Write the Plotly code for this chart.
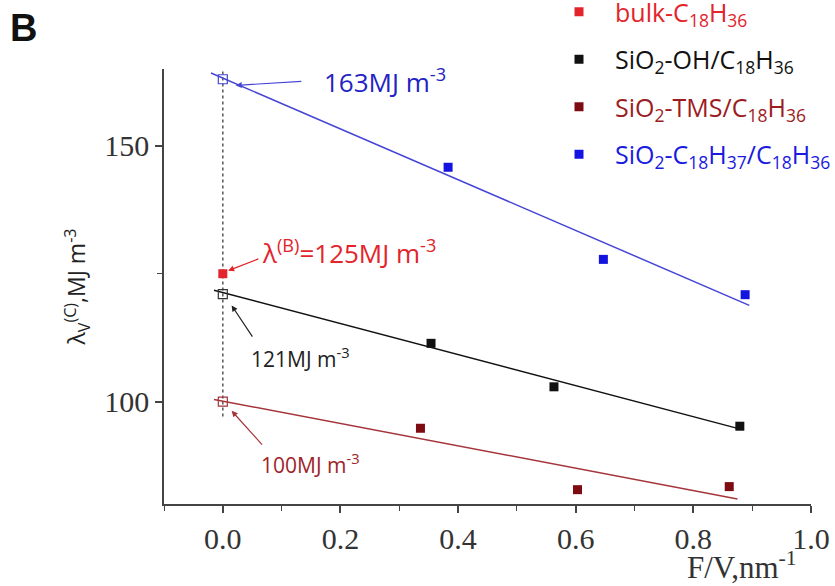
import numpy as np
import plotly.graph_objects as go

# ---------------- data ----------------
bulk_x = [0.0]
bulk_y = [125.0]

oh_x = [0.354, 0.563, 0.879]
oh_y = [111.4, 102.9, 95.2]

tms_x = [0.336, 0.603, 0.861]
tms_y = [94.8, 82.8, 83.4]

c18_x = [0.383, 0.647, 0.888]
c18_y = [145.8, 127.8, 120.9]

# extrapolated intercepts (open squares)
icpt_x = [0.0]
icpt_oh = [121.0]
icpt_tms = [100.0]
icpt_c18 = [163.0]

# extent of the fitted lines (x)
fit_oh = [-0.015, 0.88]
fit_tms = [-0.015, 0.875]
fit_c18 = [-0.02, 0.895]

guide_x = [0.0, 0.0]
guide_y = [164.5, 96.5]

x_ticks = [0.0, 0.2, 0.4, 0.6, 0.8, 1.0]
y_ticks = [100, 150]

names = [
    'bulk-C<sub>18</sub>H<sub>36</sub>',
    'SiO<sub>2</sub>-OH/C<sub>18</sub>H<sub>36</sub>',
    'SiO<sub>2</sub>-TMS/C<sub>18</sub>H<sub>36</sub>',
    'SiO<sub>2</sub>-C<sub>18</sub>H<sub>37</sub>/C<sub>18</sub>H<sub>36</sub>',
]

# ---------------- styles ----------------
RED = '#e3242b'
BLACK = '#111111'
MAROON = '#7d0c12'
MAROON_LINE = '#a5353b'
MAROON_TXT = '#9e2428'
BLUE = '#1414e0'
BLUE_LINE = '#4646d6'
BLUE_TXT = '#2323c4'
AX = '#444444'

W, H = 835, 586
ML, MR, MT, MB = 164, 24, 69, 82
PW, PH = W - ML - MR, H - MT - MB


def px2paper(px, py):
    return (px - ML) / PW, (H - MB - py) / PH


fig = go.Figure()


def fit_line(xs, ys, rng):
    k, b = np.polyfit(xs, ys, 1)
    xx = np.array(rng)
    return xx, k * xx + b


# guide dotted line
fig.add_trace(go.Scatter(x=guide_x, y=guide_y, mode='lines',
                         line=dict(color='#555555', width=1.5, dash='dot'),
                         showlegend=False, hoverinfo='skip'))

# fitted lines
for xs, ys, rng, col in [(oh_x, oh_y, fit_oh, BLACK),
                         (tms_x, tms_y, fit_tms, MAROON_LINE),
                         (c18_x, c18_y, fit_c18, BLUE_LINE)]:
    lx, ly = fit_line(xs, ys, rng)
    fig.add_trace(go.Scatter(x=lx, y=ly, mode='lines',
                             line=dict(color=col, width=1.5),
                             showlegend=False, hoverinfo='skip'))

# open intercept squares
for yy, col in [(icpt_oh, '#333333'), (icpt_tms, MAROON_LINE), (icpt_c18, BLUE_LINE)]:
    fig.add_trace(go.Scatter(x=icpt_x, y=yy, mode='markers',
                             marker=dict(symbol='square-open', size=9, color=col,
                                         line=dict(width=1.2)),
                             showlegend=False, hoverinfo='skip'))

# data series (legend)
series = [(bulk_x, bulk_y, RED, RED),
          (oh_x, oh_y, BLACK, BLACK),
          (tms_x, tms_y, MAROON, '#9b1c22'),
          (c18_x, c18_y, BLUE, '#1a1ae0')]
for i, (xs, ys, col, tcol) in enumerate(series):
    fig.add_trace(go.Scatter(
        x=xs, y=ys, mode='markers',
        marker=dict(symbol='square', size=9, color=col),
        name=f'<span style="color:{tcol}">{names[i]}</span>',
        legendgroup=f'g{i}'))

# ---------------- annotations ----------------
ann = []
# arrows (head at x,y ; tail at ax,ay) in data coords
arrows = [
    (0.022, 161.8, 0.136, 162.6, BLUE_LINE),
    (0.009, 125.6, 0.063, 128.0, RED),
    (0.015, 118.8, 0.052, 112.4, '#222222'),
    (0.015, 98.2, 0.069, 91.3, MAROON_LINE),
]
for x, y, axx, ayy, col in arrows:
    ann.append(dict(x=x, y=y, ax=axx, ay=ayy, xref='x', yref='y', axref='x', ayref='y',
                    text='', showarrow=True, arrowhead=2, arrowsize=1, arrowwidth=1.2,
                    arrowcolor=col))

FONT_S = 'Open Sans'
labels = [
    ('163MJ m<sup>-3</sup>', 0.168, 162.6, BLUE_TXT, 26),
    ('λ<sup>(B)</sup>=125MJ m<sup>-3</sup>', 0.064, 129.3, RED, 26),
    ('121MJ m<sup>-3</sup>', 0.044, 108.6, '#222222', 21),
    ('100MJ m<sup>-3</sup>', 0.061, 88.0, MAROON_TXT, 21),
]
for t, x, y, col, fs in labels:
    ann.append(dict(x=x, y=y, xref='x', yref='y', text=t, showarrow=False,
                    xanchor='left', yanchor='middle',
                    font=dict(family=FONT_S, size=fs, color=col)))

bx, by = px2paper(8, 5)
ann.append(dict(x=bx, y=by, xref='paper', yref='paper', text='<b>B</b>',
                showarrow=False, xanchor='left', yanchor='top',
                font=dict(family='Liberation Sans', size=38, color='#111111')))

tx, ty = px2paper(799, 565)
ann.append(dict(x=tx, y=ty, xref='paper', yref='paper', text='F/V,nm<sup>-1</sup>',
                showarrow=False, xanchor='right', yanchor='middle',
                font=dict(family='Liberation Serif', size=31, color='#333333')))

lx0, ly0 = px2paper(543, -11)

fig.update_layout(
    width=W, height=H,
    margin=dict(l=ML, r=MR, t=MT, b=MB, autoexpand=False),
    paper_bgcolor='white', plot_bgcolor='white',
    annotations=ann,
    showlegend=True,
    legend=dict(x=lx0, y=ly0,
                xanchor='left', yanchor='top', bgcolor='rgba(0,0,0,0)',
                font=dict(family=FONT_S, size=25, color='#111111'),
                traceorder='grouped', tracegroupgap=12, itemwidth=62),
    xaxis=dict(range=[-0.1, 1.0], tickvals=x_ticks, tickformat='.1f',
               ticks='outside', ticklen=7, tickwidth=1.5, tickcolor=AX,
               showline=True, linecolor=AX, linewidth=1.5,
               showgrid=False, zeroline=False,
               minor=dict(dtick=0.1, tick0=0, ticks='outside', ticklen=5,
                          tickwidth=1.2, tickcolor=AX, showgrid=False),
               tickfont=dict(family='Liberation Serif', size=30, color='#333333')),
    yaxis=dict(range=[80, 165], tickvals=y_ticks,
               ticks='outside', ticklen=7, tickwidth=1.5, tickcolor=AX,
               showline=True, linecolor=AX, linewidth=1.5,
               showgrid=False, zeroline=False,
               minor=dict(dtick=25, tick0=0, ticks='outside', ticklen=5,
                          tickwidth=1.2, tickcolor=AX, showgrid=False),
               tickfont=dict(family='Liberation Serif', size=30, color='#333333'),
               title=dict(text='λ<sub>V</sub><sup>(C)</sup>,MJ m<sup>-3</sup>',
                          font=dict(family=FONT_S, size=23, color='#222222'),
                          standoff=12)),
)

fig.write_html('out.html')
